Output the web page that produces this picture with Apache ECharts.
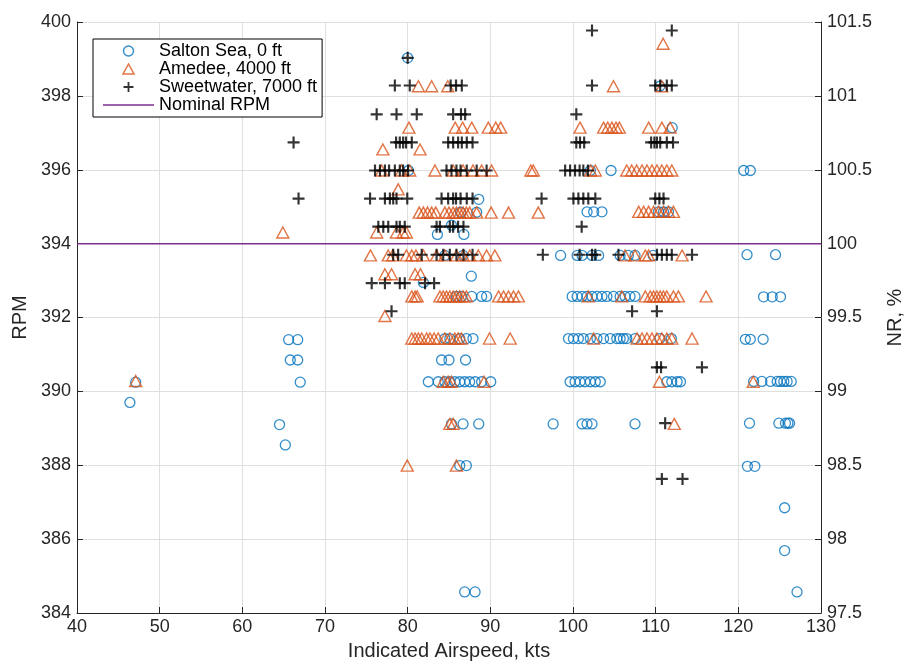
<!DOCTYPE html>
<html>
<head>
<meta charset="utf-8">
<script src="https://cdn.jsdelivr.net/npm/echarts@6/dist/echarts.min.js"></script>
<style>
  html, body { margin: 0; padding: 0; background: #fff; }
  #chart { width: 907px; height: 667px; }
</style>
</head>
<body>
<div id="chart"></div>
<script>
// Rotor RPM vs indicated airspeed for three test sites: [airspeed kts, RPM]
const saltonSea = [
  [46.4, 389.7], [47.1, 390.25], [64.5, 389.1], [65.2, 388.55],
  [65.6, 391.4], [66.7, 391.4], [65.8, 390.85], [66.7, 390.85], [67.0, 390.25],
  [80.0, 399.03], [80.1, 395.98], [88.6, 395.2], [86.4, 394.85], [88.35, 394.85],
  [83.6, 394.25], [86.8, 394.25], [85.3, 394.5], [84.5, 393.68], [86.7, 393.68],
  [87.7, 393.12], [81.9, 392.95],
  [85.9, 392.57], [86.5, 392.57], [87.75, 392.57], [88.95, 392.57], [89.55, 392.57],
  [84.5, 391.43], [85.1, 391.43], [86.3, 391.43], [87.1, 391.43], [87.9, 391.43],
  [84.1, 390.85], [85.0, 390.85], [87.0, 390.85],
  [82.5, 390.26], [83.7, 390.26], [84.5, 390.26], [85.1, 390.26], [85.7, 390.26], [86.3, 390.26],
  [86.9, 390.26], [87.5, 390.26], [88.15, 390.26], [88.95, 390.26], [90.05, 390.26],
  [85.3, 389.12], [86.7, 389.12], [88.6, 389.12],
  [86.3, 387.99], [87.1, 387.99], [86.9, 384.57], [88.15, 384.57],
  [102.1, 395.98], [104.6, 395.98], [110.5, 398.26], [112.0, 397.14],
  [101.7, 394.86], [102.5, 394.86], [103.5, 394.86], [110.35, 394.86], [110.95, 394.86], [111.55, 394.86],
  [98.5, 393.68], [100.5, 393.68], [101.1, 393.68], [102.3, 393.68], [103.1, 393.68],
  [105.7, 393.68], [106.7, 393.68], [107.5, 393.68], [109.7, 393.68],
  [99.9, 392.57], [100.5, 392.57], [101.1, 392.57], [101.7, 392.57], [102.3, 392.57], [102.9, 392.57],
  [103.5, 392.57], [104.1, 392.57], [104.9, 392.57], [105.7, 392.57], [106.3, 392.57], [106.9, 392.57], [107.5, 392.57],
  [99.45, 391.43], [100.05, 391.43], [100.65, 391.43], [101.25, 391.43], [102.1, 391.43], [102.9, 391.43],
  [103.7, 391.43], [104.5, 391.43], [105.3, 391.43], [105.7, 391.43], [106.1, 391.43], [106.5, 391.43],
  [107.5, 391.43], [110.5, 391.43], [111.9, 391.43],
  [99.65, 390.26], [100.25, 390.26], [100.85, 390.26], [101.45, 390.26], [102.1, 390.26], [102.7, 390.26],
  [103.3, 390.26], [111.35, 390.26], [111.95, 390.26], [112.6, 390.26], [113.0, 390.26],
  [97.6, 389.12], [101.1, 389.12], [101.7, 389.12], [102.3, 389.12], [107.5, 389.12],
  [120.65, 395.98], [121.45, 395.98], [121.05, 393.7], [124.5, 393.7],
  [123.05, 392.56], [124.1, 392.56], [125.1, 392.56],
  [120.85, 391.41], [121.45, 391.41], [123.0, 391.41],
  [121.85, 390.27], [122.85, 390.27], [123.9, 390.27], [124.7, 390.27], [125.1, 390.27],
  [125.5, 390.27], [125.9, 390.27], [126.4, 390.27],
  [121.35, 389.14], [124.9, 389.14], [125.7, 389.14], [126.0, 389.14], [126.2, 389.14],
  [121.1, 387.97], [122.0, 387.97], [125.6, 386.85], [125.6, 385.69], [127.1, 384.57]
];

const amedee = [
  [47.1, 390.28], [64.9, 394.3],
  [81.3, 398.26], [82.9, 398.26], [84.85, 398.26],
  [80.15, 397.14], [85.75, 397.14], [86.65, 397.14], [87.75, 397.14], [89.75, 397.14], [90.65, 397.14], [91.25, 397.14],
  [77.0, 396.55], [81.5, 396.55],
  [76.85, 395.98], [79.25, 395.98], [80.25, 395.98], [83.3, 395.98], [85.5, 395.98], [86.7, 395.98],
  [87.9, 395.98], [88.95, 395.98], [90.15, 395.98], [94.9, 395.98],
  [78.85, 395.47],
  [81.4, 394.84], [81.9, 394.84], [82.4, 394.84], [82.9, 394.84], [83.4, 394.84], [84.5, 394.84],
  [85.0, 394.84], [85.5, 394.84], [85.9, 394.84], [86.3, 394.84], [86.7, 394.84], [87.1, 394.84],
  [87.5, 394.84], [88.35, 394.84], [90.1, 394.84], [92.2, 394.84], [95.8, 394.84],
  [76.25, 394.3], [78.65, 394.3], [79.45, 394.3], [79.85, 394.3],
  [75.5, 393.68], [77.65, 393.68], [78.2, 393.68], [79.85, 393.68], [80.5, 393.68], [81.0, 393.68],
  [81.9, 393.68], [83.5, 393.68], [84.5, 393.68], [85.9, 393.68], [86.7, 393.68], [87.5, 393.68],
  [88.55, 393.68], [89.55, 393.68], [90.55, 393.68],
  [77.25, 393.17], [78.05, 393.17], [80.9, 393.17], [81.55, 393.17],
  [80.5, 392.57], [80.9, 392.57], [81.15, 392.57], [83.9, 392.57], [84.3, 392.57], [84.7, 392.57],
  [85.1, 392.57], [85.5, 392.57], [85.9, 392.57], [86.3, 392.57], [86.7, 392.57], [87.1, 392.57],
  [91.0, 392.57], [91.6, 392.57], [92.2, 392.57], [92.8, 392.57], [93.4, 392.57],
  [77.25, 392.04],
  [80.5, 391.43], [80.9, 391.43], [81.3, 391.43], [81.7, 391.43], [82.3, 391.43], [82.7, 391.43],
  [83.2, 391.43], [83.7, 391.43], [84.5, 391.43], [85.1, 391.43], [85.7, 391.43], [86.1, 391.43],
  [86.5, 391.43], [89.9, 391.43], [92.4, 391.43],
  [84.3, 390.26], [84.9, 390.26], [85.3, 390.26], [89.25, 390.26],
  [85.1, 389.12], [85.5, 389.12], [79.95, 387.99], [85.9, 387.99],
  [110.9, 399.41], [104.9, 398.26], [110.75, 398.26],
  [100.85, 397.14], [103.7, 397.14], [104.2, 397.14], [104.7, 397.14], [105.2, 397.14], [105.6, 397.14],
  [109.15, 397.14], [110.75, 397.14], [111.75, 397.14],
  [95.2, 395.98], [102.15, 395.98], [102.7, 395.98], [106.5, 395.98], [107.1, 395.98], [107.7, 395.98],
  [108.35, 395.98], [108.95, 395.98], [109.55, 395.98], [110.15, 395.98], [110.75, 395.98],
  [111.35, 395.98], [111.95, 395.98],
  [107.95, 394.86], [108.55, 394.86], [109.15, 394.86], [109.75, 394.86], [110.35, 394.86],
  [110.95, 394.86], [111.55, 394.86], [112.15, 394.86],
  [106.3, 393.68], [107.5, 393.68], [108.75, 393.68], [109.15, 393.68], [113.2, 393.68],
  [101.85, 392.57], [105.9, 392.57], [108.75, 392.57], [109.35, 392.57], [109.75, 392.57], [110.15, 392.57],
  [110.55, 392.57], [110.95, 392.57], [111.35, 392.57], [112.15, 392.57], [112.75, 392.57], [116.1, 392.57],
  [102.5, 391.43], [107.75, 391.43], [108.35, 391.43], [108.95, 391.43], [109.55, 391.43], [110.15, 391.43],
  [110.75, 391.43], [111.35, 391.43], [111.95, 391.43], [114.4, 391.43],
  [110.45, 390.26], [121.8, 390.26], [112.25, 389.12]
];

const sweetwater = [
  [66.2, 396.74], [66.8, 395.22],
  [102.3, 399.77], [111.95, 399.77], [80.0, 399.03],
  [78.45, 398.28], [80.25, 398.28], [85.2, 398.28], [85.85, 398.28], [86.55, 398.28],
  [102.3, 398.28], [109.95, 398.28], [110.55, 398.28], [111.35, 398.28], [111.95, 398.28],
  [76.25, 397.5], [78.65, 397.5], [81.1, 397.5], [85.5, 397.5], [86.45, 397.5], [86.95, 397.5], [100.4, 397.5],
  [78.6, 396.74], [79.05, 396.74], [79.45, 396.74], [79.8, 396.74], [80.5, 396.74],
  [84.9, 396.74], [85.5, 396.74], [86.1, 396.74], [86.55, 396.74], [87.15, 396.74], [87.85, 396.74],
  [100.4, 396.74], [100.85, 396.74], [101.35, 396.74],
  [109.45, 396.74], [109.85, 396.74], [110.15, 396.74], [110.55, 396.74], [111.35, 396.74], [112.1, 396.74],
  [76.05, 395.98], [76.65, 395.98], [77.25, 395.98], [77.75, 395.98], [78.45, 395.98], [79.05, 395.98],
  [79.45, 395.98], [80.05, 395.98], [84.7, 395.98], [85.3, 395.98], [85.9, 395.98], [86.4, 395.98],
  [87.15, 395.98], [88.35, 395.98], [89.55, 395.98],
  [99.05, 395.98], [99.65, 395.98], [100.25, 395.98], [100.8, 395.98], [101.25, 395.98], [101.8, 395.98],
  [75.45, 395.22], [77.25, 395.22], [77.85, 395.22], [78.25, 395.22], [78.65, 395.22], [79.95, 395.22],
  [84.1, 395.22], [84.9, 395.22], [85.5, 395.22], [85.85, 395.22], [86.4, 395.22], [87.15, 395.22], [87.85, 395.22],
  [96.2, 395.22], [100.05, 395.22], [100.65, 395.22], [101.25, 395.22], [101.85, 395.22], [102.7, 395.22],
  [109.95, 395.22], [110.45, 395.22], [110.95, 395.22],
  [76.45, 394.46], [77.05, 394.46], [77.65, 394.46], [78.65, 394.46], [79.05, 394.46], [79.65, 394.46],
  [83.5, 394.46], [83.9, 394.46], [85.1, 394.46], [85.5, 394.46], [86.1, 394.46], [86.75, 394.46], [101.05, 394.46],
  [78.25, 393.7], [78.85, 393.7], [81.7, 393.7], [83.5, 393.7], [84.3, 393.7], [85.1, 393.7],
  [85.9, 393.7], [86.75, 393.7], [87.85, 393.7], [96.35, 393.7], [100.8, 393.7], [102.3, 393.7],
  [102.7, 393.7], [105.5, 393.7], [110.15, 393.7], [110.75, 393.7], [111.35, 393.7], [111.95, 393.7], [114.4, 393.7],
  [75.65, 392.93], [77.25, 392.93], [79.05, 392.93], [79.65, 392.93], [82.1, 392.93], [83.2, 392.93],
  [78.05, 392.17], [107.15, 392.17], [110.15, 392.17],
  [110.15, 390.65], [110.65, 390.65], [115.6, 390.65],
  [111.15, 389.14], [110.75, 387.63], [113.25, 387.63]
];

// Nominal rotor speed reference line
const nominalRPM = [[40, 394], [130, 394]];

// Axis extents and tick steps
const xRange = [40, 130, 10];
const rpmRange = [384, 400, 2];
const nrRange = [97.5, 101.5, 0.5];

const seriesNames = ['Salton Sea, 0 ft', 'Amedee, 4000 ft', 'Sweetwater, 7000 ft', 'Nominal RPM'];

const FONT = 'Liberation Sans';
const AXIS_COLOR = '#262626';
const GRID_COLOR = '#dfdfdf';
const BLUE = '#0072BD';
const ORANGE = '#D95319';
const PURPLE = '#7E2F8E';
const PLUS = 'path://M4.1,0H5.9V4.1H10V5.9H5.9V10H4.1V5.9H0V4.1H4.1Z';
const LINE_ICON = 'path://M0,0H51V1.5H0Z';
const TRIANGLE = 'path://M5.5,0L11,10H0Z';

const chart = echarts.init(document.getElementById('chart'), null, { renderer: 'canvas' });

const axisLabelStyle = { color: AXIS_COLOR, fontFamily: FONT, fontSize: 18 };
const nameStyle = { color: AXIS_COLOR, fontFamily: FONT, fontSize: 20 };
const hollow = (c, w) => ({ color: 'rgba(0,0,0,0)', borderColor: c, borderWidth: w });

chart.setOption({
  animation: false,
  backgroundColor: '#fff',
  grid: { left: 77, right: 86, top: 22, bottom: 54, containLabel: false, outerBoundsMode: 'none' },
  legend: {
    data: [
      { name: seriesNames[0], icon: 'circle', itemStyle: hollow(BLUE, 1.4) },
      { name: seriesNames[1], icon: TRIANGLE, itemStyle: hollow(ORANGE, 1.5) },
      { name: seriesNames[2], icon: PLUS, itemStyle: { color: '#000', borderWidth: 0 } },
      { name: seriesNames[3], icon: LINE_ICON, itemStyle: { color: PURPLE, borderWidth: 0 } }
    ],
    orient: 'vertical',
    left: 93,
    top: 39,
    padding: [3, 5, 3, 10],
    itemWidth: 51,
    itemHeight: 10,
    itemGap: 0,
    symbolKeepAspect: true,
    backgroundColor: '#fff',
    borderColor: '#000',
    borderWidth: 1,
    textStyle: { color: '#000', fontFamily: FONT, fontSize: 18, lineHeight: 17.6 },
    selectedMode: false
  },
  xAxis: {
    type: 'value',
    min: xRange[0], max: xRange[1], interval: xRange[2],
    name: 'Indicated Airspeed, kts',
    nameLocation: 'middle',
    nameGap: 28,
    nameTextStyle: nameStyle,
    axisLine: { show: true, onZero: false, lineStyle: { color: AXIS_COLOR, width: 1 } },
    axisTick: { show: true, inside: true, length: 6, lineStyle: { color: AXIS_COLOR } },
    axisLabel: Object.assign({ margin: 5 }, axisLabelStyle),
    splitLine: { show: true, lineStyle: { color: GRID_COLOR, width: 1 } }
  },
  yAxis: [
    {
      type: 'value',
      position: 'left',
      min: rpmRange[0], max: rpmRange[1], interval: rpmRange[2],
      name: 'RPM',
      nameLocation: 'middle',
      nameGap: 47,
      nameRotate: 90,
      nameTextStyle: nameStyle,
      axisLine: { show: true, onZero: false, lineStyle: { color: AXIS_COLOR, width: 1 } },
      axisTick: { show: true, inside: true, length: 6, lineStyle: { color: AXIS_COLOR } },
      axisLabel: Object.assign({ margin: 6 }, axisLabelStyle),
      splitLine: { show: true, lineStyle: { color: GRID_COLOR, width: 1 } }
    },
    {
      type: 'value',
      position: 'right',
      min: nrRange[0], max: nrRange[1], interval: nrRange[2],
      name: 'NR, %',
      nameLocation: 'middle',
      nameGap: 64,
      nameRotate: 90,
      nameTextStyle: nameStyle,
      axisLine: { show: true, onZero: false, lineStyle: { color: AXIS_COLOR, width: 1 } },
      axisTick: { show: true, inside: true, length: 6, lineStyle: { color: AXIS_COLOR } },
      axisLabel: Object.assign({ margin: 6 }, axisLabelStyle),
      splitLine: { show: false }
    }
  ],
  series: [
    {
      name: seriesNames[3],
      type: 'line',
      data: nominalRPM,
      symbol: 'none',
      z: 1,
      lineStyle: { color: PURPLE, width: 1.5 },
      itemStyle: { color: PURPLE }
    },
    {
      name: seriesNames[0],
      type: 'scatter',
      data: saltonSea,
      symbol: 'circle',
      symbolSize: 10,
      z: 2,
      itemStyle: hollow(BLUE, 1.3)
    },
    {
      name: seriesNames[1],
      type: 'scatter',
      data: amedee,
      symbol: TRIANGLE,
      symbolSize: [12, 11],
      z: 3,
      itemStyle: hollow(ORANGE, 1.4)
    },
    {
      name: seriesNames[2],
      type: 'scatter',
      data: sweetwater,
      symbol: PLUS,
      symbolSize: 12,
      z: 4,
      itemStyle: { color: '#000', borderWidth: 0 }
    }
  ]
});
</script>
</body>
</html>
